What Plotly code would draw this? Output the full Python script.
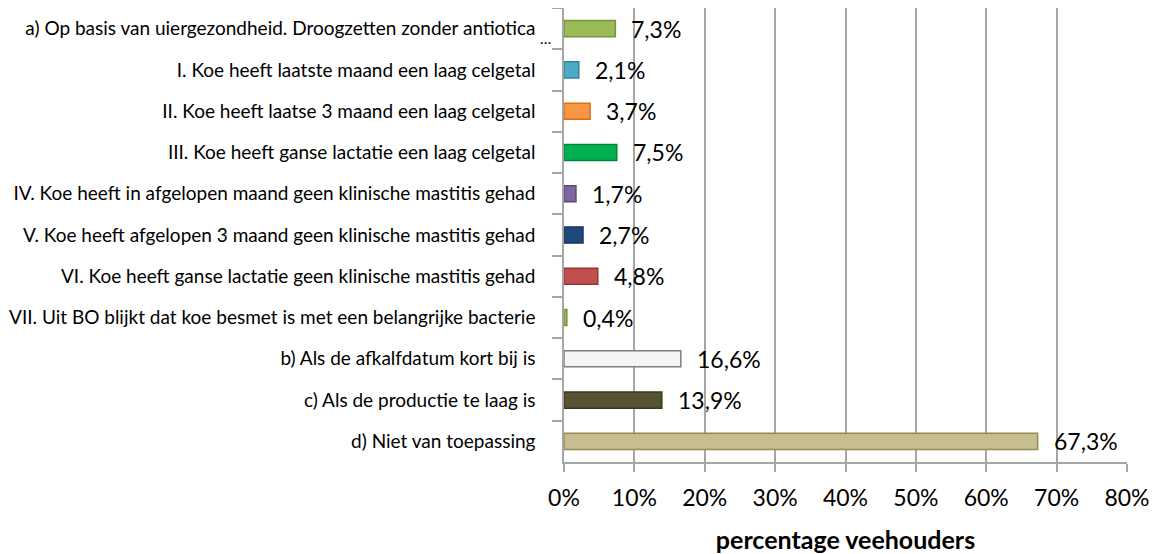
import plotly.graph_objects as go

categories = [
    "a) Op basis van uiergezondheid. Droogzetten zonder antiotica",
    "I. Koe heeft laatste maand een laag celgetal",
    "II. Koe heeft laatse 3 maand een laag celgetal",
    "III. Koe heeft ganse lactatie een laag celgetal",
    "IV. Koe heeft in afgelopen maand geen klinische mastitis gehad",
    "V. Koe heeft afgelopen 3 maand geen klinische mastitis gehad",
    "VI. Koe heeft ganse lactatie geen klinische mastitis gehad",
    "VII. Uit BO blijkt dat koe besmet is met een belangrijke bacterie",
    "b) Als de afkalfdatum kort bij is",
    "c) Als de productie te laag is",
    "d) Niet van toepassing",
]
values = [7.3, 2.1, 3.7, 7.5, 1.7, 2.7, 4.8, 0.4, 16.6, 13.9, 67.3]
fill_colors = ["#9BBB59", "#4BACC6", "#F79646", "#00B050", "#8064A2", "#1F497D",
               "#C0504D", "#9BBB59", "#F4F4F4", "#57522F", "#C6BE8E"]
line_colors = ["#76923C", "#31859C", "#E46C0A", "#00863C", "#5F497A", "#17365D",
               "#953735", "#76923C", "#7F7F7F", "#3B3822", "#948A54"]
x_ticks = [0, 10, 20, 30, 40, 50, 60, 70, 80]
x_title = "percentage veehouders"
truncation_mark = "…"

fig = go.Figure()
fig.add_trace(go.Bar(
    y=categories, x=values, orientation="h",
    marker=dict(color=fill_colors, line=dict(color=line_colors, width=1.5)),
    width=0.39, hoverinfo="skip",
))

for c, v in zip(categories, values):
    fig.add_annotation(
        x=v, y=c, text=f"{v:.1f}".replace(".", ",") + "%",
        xanchor="left", yanchor="middle", xshift=14, showarrow=False,
        font=dict(family="Lato", size=23, color="#000000"),
    )

# ellipsis marking the truncated first category label
fig.add_annotation(
    x=0, xref="paper", y=categories[0], yref="y", text=truncation_mark,
    xanchor="right", yanchor="middle", xshift=-11, yshift=-9, showarrow=False,
    font=dict(family="Lato", size=15, color="#000000"),
)

fig.update_layout(
    width=1150, height=546,
    margin=dict(l=556, r=31, t=0, b=92),
    paper_bgcolor="white", plot_bgcolor="white",
    showlegend=False,
    font=dict(family="Lato", color="#000000"),
)
fig.update_xaxes(
    range=[0, 80], tickvals=x_ticks, ticktext=[f"{t}%" for t in x_ticks],
    showgrid=True, gridcolor="#A6A6A6", gridwidth=1.5,
    showline=True, linecolor="#A6A6A6", linewidth=1.5,
    ticks="outside", ticklen=8, tickcolor="#A6A6A6", tickwidth=1.5,
    tickfont=dict(family="Lato", size=23, color="#000000"),
    ticklabelstandoff=7,
    zeroline=False,
    title=dict(text=f"<b>{x_title}</b>", font=dict(family="Lato", size=25, color="#000000"), standoff=21),
)
fig.update_yaxes(
    autorange="reversed", tickson="boundaries",
    showline=True, linecolor="#A6A6A6", linewidth=1.5,
    ticks="outside", ticklen=10, tickcolor="#A6A6A6", tickwidth=1.5,
    tickfont=dict(family="Lato", size=19, color="#000000"),
    ticklabelstandoff=23, showgrid=False,
)

fig.write_html("out.html")
